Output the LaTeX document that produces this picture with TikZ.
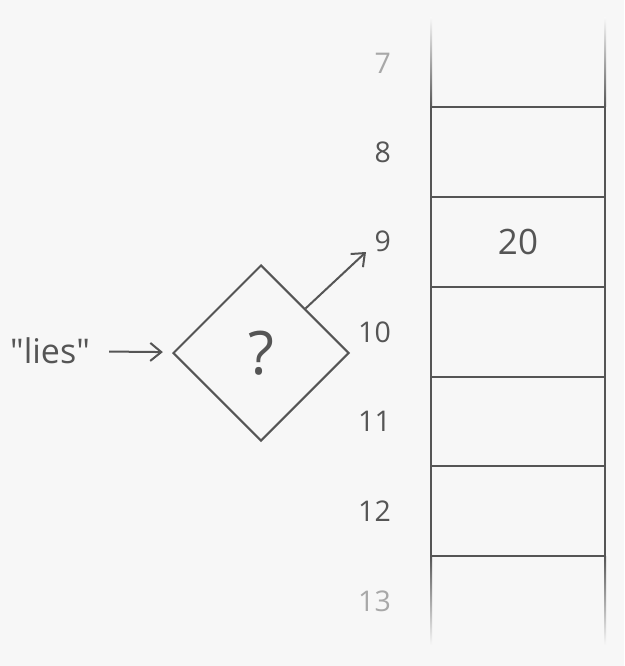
\documentclass[tikz,border=0pt]{standalone}
\usepackage{fontspec}
\setmainfont{Open Sans}[Ligatures=TeXOff]
\usetikzlibrary{shapes.geometric,arrows.meta}
\definecolor{bg}{HTML}{F7F7F7}
\definecolor{ink}{HTML}{555555}
\definecolor{faint}{HTML}{A8A8A8}

\begin{document}
\begin{tikzpicture}[x=1pt,y=-1pt]
\fill[bg] (0,0) rectangle (624,666);
\useasboundingbox (0,0) rectangle (624,666);
\tikzset{cell/.style={draw=ink, line width=2pt, minimum width=174pt, minimum height=89.8pt, inner sep=0pt, font=\fontsize{35}{40}\selectfont, text=ink},
  num/.style={anchor=east, inner sep=0pt, font=\fontsize{28.5}{34}\selectfont, text=ink},
  link/.style={draw=ink, line width=2pt, -{Straight Barb[length=11pt, width=18pt]}}}

\node[cell] (8) at (518,152) {};
\node[cell] (9) at (518,242) {20};
\node[cell] (10) at (518,332) {};
\node[cell] (11) at (518,421.5) {};
\node[cell] (12) at (518,511) {};

\shade[top color=bg, bottom color=ink] (430,18) rectangle (432,107);
\shade[top color=bg, bottom color=ink] (604,18) rectangle (606,107);
\shade[top color=ink, bottom color=bg] (430,556) rectangle (432,645);
\shade[top color=ink, bottom color=bg] (604,556) rectangle (606,645);

\node[num, text=faint] (n7) at (391,63) {7};
\node[num] (n8) at (391,152) {8};
\node[num] (n9) at (391,241) {9};
\node[num] (n10) at (391,332) {10};
\node[num] (n11) at (391,421) {11};
\node[num] (n12) at (391,511) {12};
\node[num, text=faint] (n13) at (391,601) {13};

\node[draw=ink, line width=2pt, diamond, aspect=1, minimum width=176pt, minimum height=176pt, inner sep=0pt, font=\fontsize{60}{64}\selectfont, text=ink] (q) at (261,353) {?};
\node[font=\fontsize{34}{40}\selectfont, text=ink, inner sep=0pt] (w) at (50,351) {"lies"};
\coordinate (t) at (366,252);

\draw[link, shorten <=19pt, shorten >=10pt] (w) -- (q);
\draw[link] (q.45) -- (t);
\end{tikzpicture}
\end{document}
